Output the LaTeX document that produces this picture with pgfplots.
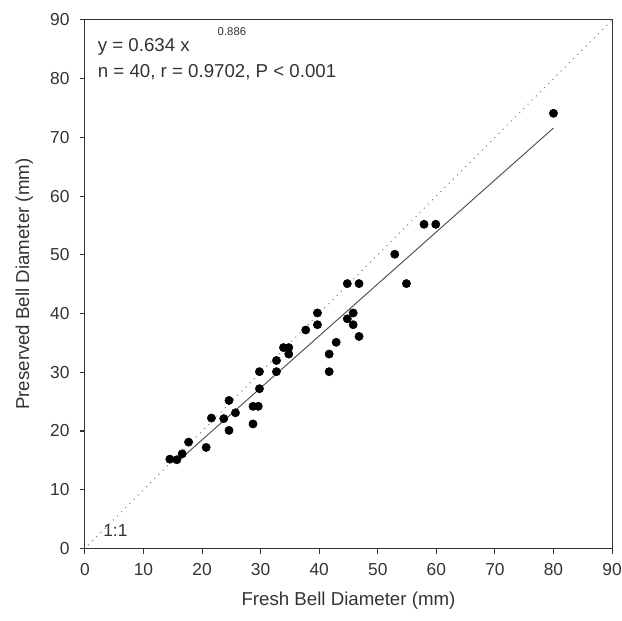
\documentclass[border=0pt]{standalone}
\usepackage{fontspec}
\setmainfont{Liberation Sans}
\usepackage{pgfplots}
\pgfplotsset{compat=1.18}
\usepackage{xcolor}
\definecolor{ink}{HTML}{333333}

\begin{document}
\begin{tikzpicture}
\begin{axis}[
    scale only axis,
    width=395pt, height=396pt,
    xmin=0, xmax=90, ymin=0, ymax=90,
    xtick={0,10,...,90}, ytick={0,10,...,90},
    axis line style={ink, line width=0.8pt},
    tick style={ink, line width=0.8pt},
    tick align=outside, major tick length=4pt,
    xtick pos=bottom, ytick pos=left,
    /pgf/number format/assume math mode=true,
    tick label style={font=\fontsize{13}{15}\selectfont, text=ink},
    xticklabel style={yshift=-4pt},
    yticklabel style={xshift=-4pt},
    label style={font=\fontsize{14}{16}\selectfont, text=ink},
    xlabel={Fresh Bell Diameter (mm)},
    ylabel={Preserved Bell Diameter (mm)},
    xlabel style={yshift=-5pt},
    ylabel style={yshift=6pt},
    clip=false,
]
% 1:1 line
\addplot[gray, line width=1.1pt, line cap=round, dash pattern=on 0pt off 4.4pt]
  coordinates {(0.6,0.6)(90,90)};
% fitted line
\addplot[black!70, line width=0.7pt] coordinates {(15.5,14.5)(80,71.6)};
% observations
\addplot[only marks, mark=*, mark size=3.1pt, black] coordinates {
  (14.5,15.2)(15.7,15.1)(16.6,16.1)(17.7,18.1)(20.7,17.2)
  (21.6,22.2)(23.7,22.1)(24.6,25.2)(24.6,20.1)(25.7,23.1)
  (28.7,24.2)(29.6,24.2)(28.7,21.2)(29.8,27.2)(29.8,30.1)
  (32.7,30.1)(32.7,32.0)(33.9,34.2)(34.8,34.2)(34.8,33.1)
  (37.7,37.2)(39.7,40.1)(39.7,38.1)(42.9,35.1)(41.7,33.1)
  (41.7,30.1)(44.8,45.1)(46.8,45.1)(45.8,40.1)(44.8,39.1)
  (45.8,38.1)(46.8,36.1)(52.9,50.1)(54.9,45.1)(57.9,55.2)
  (59.9,55.2)(80.0,74.1)};
\node[anchor=west, text=ink, font=\fontsize{14}{16}\selectfont]
  at (axis cs:1.4,85.4) {y = 0.634 x};
\node[text=ink, font=\fontsize{8.5}{10}\selectfont]
  at (axis cs:25.1,88.1) {0.886};
\node[anchor=west, text=ink, font=\fontsize{14}{16}\selectfont]
  at (axis cs:1.4,81.1) {n = 40, r = 0.9702, P < 0.001};
\node[text=ink, font=\fontsize{13}{15}\selectfont]
  at (axis cs:5.2,3.0) {1:1};
% page frame, as cut in the reference
\coordinate (bl) at (axis cs:-14.5,-12.3);
\coordinate (tr) at (axis cs:91.7,93.4);
\end{axis}
\pgfresetboundingbox
\path[use as bounding box] (bl) rectangle (tr);
\end{tikzpicture}
\end{document}
